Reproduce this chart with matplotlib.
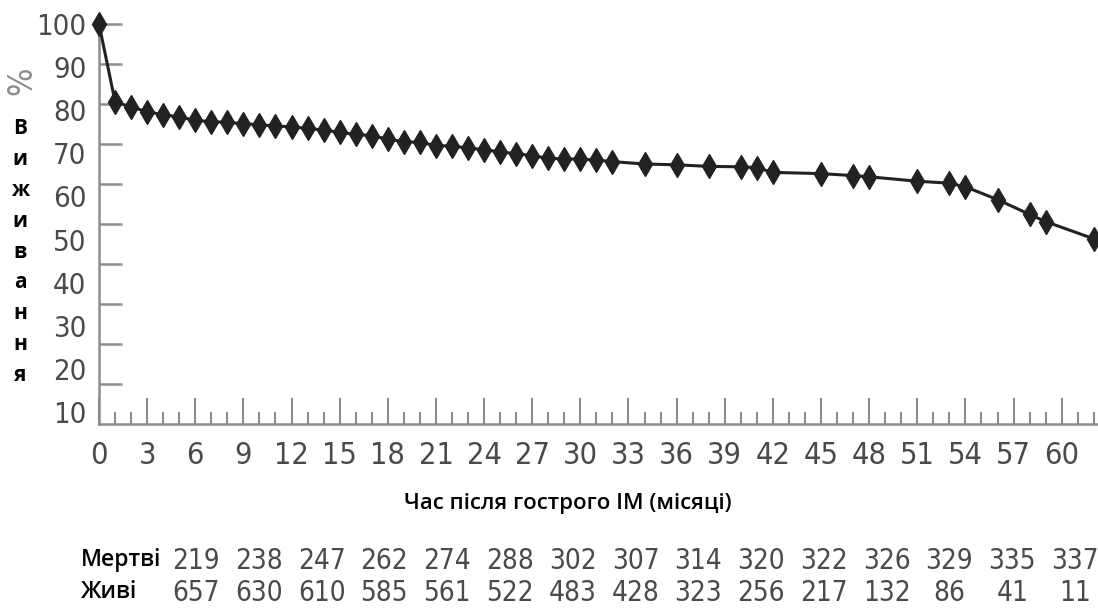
import matplotlib
matplotlib.use('Agg')
import matplotlib.pyplot as plt
import numpy as np

# Виживання після гострого ІМ
months = [0, 1, 2, 3, 4, 5, 6, 7, 8, 9, 10, 11, 12, 13, 14, 15, 16, 17, 18, 19,
          20, 21, 22, 23, 24, 25, 26, 27, 28, 29, 30, 31, 32, 34, 36, 38, 40, 41,
          42, 45, 47, 48, 51, 53, 54, 56, 58, 59, 62]
survival = [100, 80.6, 79.2, 78.1, 77.3, 76.8, 75.9, 75.6, 75.4, 75.1, 74.8, 74.5,
            74.3, 73.9, 73.5, 72.9, 72.4, 72.1, 71.2, 70.6, 70.4, 69.6, 69.5, 69.0,
            68.6, 68.0, 67.6, 67.1, 66.4, 66.3, 66.2, 66.0, 65.6, 65.0, 64.8, 64.4,
            64.3, 64.1, 62.9, 62.6, 62.1, 61.8, 60.7, 60.2, 59.3, 56.1, 52.4, 50.6,
            46.3]

x_ticks = list(range(0, 61, 3))
y_ticks = list(range(10, 101, 10))

dead = [219, 238, 247, 262, 274, 288, 302, 307, 314, 320, 322, 326, 329, 335, 337]
alive = [657, 630, 610, 585, 561, 522, 483, 428, 323, 256, 217, 132, 86, 41, 11]

ylabel_letters = ['В', 'и', 'ж', 'и', 'в', 'а', 'н', 'н', 'я']

# вузький шрифт для цифр
num_prop = dict(family='DejaVu Sans', stretch='condensed')
txt_font = ['Open Sans', 'DejaVu Sans']
grey = '#8c8c8c'
num_col = '#4a4a4a'

fig = plt.figure(figsize=(10.98, 6.10), dpi=100)
ax = fig.add_axes([99 / 1098, 186 / 610, 998 / 1098, 404 / 610])

ax.plot(months, survival, color='#222222', lw=2.2, marker='d', ms=12,
        clip_on=False, zorder=3)

ax.set_xlim(0, 62.2)
ax.set_ylim(0, 101)
for s in ['top', 'right']:
    ax.spines[s].set_visible(False)
for s in ['left', 'bottom']:
    ax.spines[s].set_color(grey)
    ax.spines[s].set_linewidth(1.8)

ax.set_xticks(x_ticks)
ax.set_xticks(range(0, 63), minor=True)
ax.set_yticks(y_ticks)
ax.tick_params(axis='x', which='major', direction='in', length=19, width=1.5,
               color=grey, pad=12, labelsize=22, labelcolor=num_col)
ax.tick_params(axis='x', which='minor', direction='in', length=8.5, width=1.5,
               color=grey)
ax.tick_params(axis='y', which='major', direction='in', length=16.5, width=1.8,
               color=grey, labelleft=False)
for lab in ax.get_xticklabels():
    lab.set(**num_prop)

# підписи осі Y (в оригіналі трохи зміщені відносно рисок)
ax_lab = ax.twinx()
ax_lab.set_ylim(7.2, 100.93)
for s in ax_lab.spines.values():
    s.set_visible(False)
ax_lab.yaxis.tick_left()
ax_lab.set_yticks(y_ticks)
ax_lab.tick_params(axis='y', length=0, pad=9, labelsize=21, labelcolor=num_col)
for lab in ax_lab.get_yticklabels():
    lab.set(**num_prop)

# вертикальний підпис осі Y
fig.text(22 / 1098, 1 - 81 / 610, '%', rotation=90, ha='center', va='center',
         fontsize=24, color=grey, **num_prop)
fig.text(20 / 1098, 1 - 252 / 610, '\n'.join(ylabel_letters), ha='center',
         va='center', fontsize=15, fontweight='bold', family=txt_font,
         linespacing=1.62)

fig.text(568 / 1098, 1 - 503 / 610, 'Час після гострого ІМ (місяці)',
         ha='center', va='center', fontsize=16, fontweight='semibold',
         family=txt_font)

# таблиця під графіком
fig.text(81 / 1098, 1 - 560 / 610, 'Мертві', ha='left', va='center',
         fontsize=16.5, fontweight='semibold', family=txt_font)
fig.text(81 / 1098, 1 - 592 / 610, 'Живі', ha='left', va='center',
         fontsize=16.5, fontweight='semibold', family=txt_font)
col_x = np.linspace(196, 1075, len(dead)) / 1098
for cx, d, a in zip(col_x, dead, alive):
    fig.text(cx, 1 - 561 / 610, str(d), ha='center', va='center', fontsize=20,
             color=num_col, **num_prop)
    fig.text(cx, 1 - 593 / 610, str(a), ha='center', va='center', fontsize=20,
             color=num_col, **num_prop)

fig.savefig('out.png', dpi=100)
